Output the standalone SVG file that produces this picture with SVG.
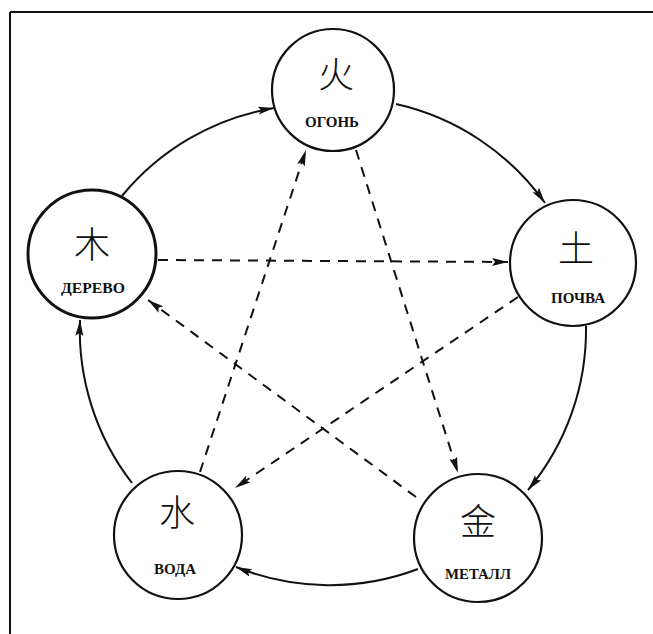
<svg xmlns="http://www.w3.org/2000/svg" width="653" height="634" viewBox="0 0 653 634">
<defs>
<marker id="ah" markerUnits="userSpaceOnUse" markerWidth="18" markerHeight="10" refX="16" refY="4" orient="auto">
<path d="M0,0 L16,4 L0,8 L3,4 z" fill="#111"/>
</marker>
<style>
.node{fill:#fff;stroke:#111;stroke-width:2.2}
.cjk{font-family:"Noto Sans CJK SC","Noto Sans CJK JP",sans-serif;font-size:36px;font-weight:300;fill:#111;text-anchor:middle}
.lbl{font-family:"Liberation Serif",serif;font-weight:bold;font-size:14px;fill:#111;text-anchor:middle}
.arc{fill:none;stroke:#111;stroke-width:2;marker-end:url(#ah)}
.dash{fill:none;stroke:#111;stroke-width:2;stroke-dasharray:10 8;marker-end:url(#ah)}
</style>
</defs>
<rect width="653" height="634" fill="#fff"/>
<path d="M10,12 L653,12 M10,12 L10,634" stroke="#111" stroke-width="2" fill="none"/>
<g id="connectors">
<path class="arc" d="M122,196 A250,250 0 0 1 274,108"/>
<path class="arc" d="M396,104 A250,250 0 0 1 545,203"/>
<path class="arc" d="M586,326 A250,250 0 0 1 528,490"/>
<path class="arc" d="M418,569 A250,250 0 0 1 236,567"/>
<path class="arc" d="M132,483 A250,250 0 0 1 80,320"/>
<path class="dash" d="M158,260 L508,262"/>
<path class="dash" d="M356,150 L458,473"/>
<path class="dash" d="M518,297 L235,488"/>
<path class="dash" d="M416,497 L148,300"/>
<path class="dash" d="M200,472 L306,150"/>
</g>
<g id="fire">
<circle class="node" cx="333" cy="90" r="61"/>
<text class="cjk" x="336" y="88">火</text>
<text class="lbl" x="332" y="127" textLength="54" lengthAdjust="spacingAndGlyphs">ОГОНЬ</text>
</g>
<g id="wood">
<circle class="node" cx="92" cy="254" r="64" style="stroke-width:3"/>
<text class="cjk" x="92" y="258">木</text>
<text class="lbl" x="93" y="293" textLength="64" lengthAdjust="spacingAndGlyphs">ДЕРЕВО</text>
</g>
<g id="soil">
<circle class="node" cx="573" cy="263" r="63"/>
<text class="cjk" x="576" y="262">土</text>
<text class="lbl" x="578" y="303" textLength="54" lengthAdjust="spacingAndGlyphs">ПОЧВА</text>
</g>
<g id="water">
<circle class="node" cx="178" cy="535" r="64"/>
<text class="cjk" x="177" y="526">水</text>
<text class="lbl" x="175" y="574" textLength="42" lengthAdjust="spacingAndGlyphs">ВОДА</text>
</g>
<g id="metal">
<circle class="node" cx="478" cy="538" r="64"/>
<text class="cjk" x="478" y="535">金</text>
<text class="lbl" x="478" y="579" textLength="66" lengthAdjust="spacingAndGlyphs">МЕТАЛЛ</text>
</g>
</svg>
